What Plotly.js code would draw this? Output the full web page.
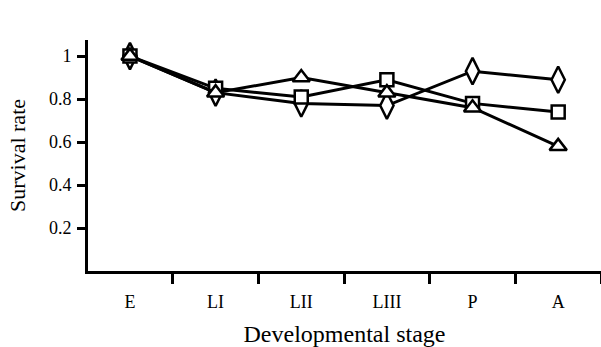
<!DOCTYPE html>
<html><head><meta charset="utf-8">
<script src="https://cdn.plot.ly/plotly-3.0.1.min.js"></script>
<style>html,body{margin:0;padding:0;background:#fff}#c{width:601px;height:347px}</style>
</head><body><div id="c"></div>
<script>
const stages = ["E", "LI", "LII", "LIII", "P", "A"];
const squareVals = [1.0, 0.85, 0.81, 0.89, 0.78, 0.74];
const diamondVals = [1.0, 0.83, 0.78, 0.77, 0.93, 0.89];
const triangleVals = [1.0, 0.83, 0.90, 0.83, 0.76, 0.58];
const yTicks = [0.2, 0.4, 0.6, 0.8, 1];
const yTickText = ["0.2", "0.4", "0.6", "0.8", "1"];

function series(name, vals, symbol, size) {
  return {
    type: "scatter", mode: "lines+markers", name: name,
    x: stages, y: vals,
    line: {color: "#000", width: 3},
    marker: {symbol: symbol, size: size, color: "#fff", line: {color: "#000", width: 2.5}},
    cliponaxis: false
  };
}
const data = [
  series("Diamond", diamondVals, "diamond-tall", 19),
  series("Square", squareVals, "square", 13),
  series("Triangle", triangleVals, "triangle-up", 15)
];
const ff = "Liberation Serif, Times New Roman, serif";
const layout = {
  width: 601, height: 347,
  margin: {l: 88, r: 0, t: 40, b: 76},
  showlegend: false,
  paper_bgcolor: "#fff", plot_bgcolor: "#fff",
  font: {family: ff, color: "#000"},
  xaxis: {
    type: "category", range: [-0.49, 5.5], tickson: "boundaries",
    showline: true, linecolor: "#000", linewidth: 3,
    ticks: "outside", ticklen: 10, tickwidth: 3, tickcolor: "#000",
    ticklabelstandoff: 12,
    showgrid: false, zeroline: false,
    tickfont: {family: ff, size: 18, color: "#000"},
    title: {text: "Developmental stage", font: {family: ff, size: 24, color: "#000"}, standoff: 15}
  },
  yaxis: {
    range: [0, 1.075], tickvals: yTicks, ticktext: yTickText,
    showline: true, linecolor: "#000", linewidth: 3,
    ticks: "outside", ticklen: 8, tickwidth: 3, tickcolor: "#000",
    ticklabelstandoff: 2,
    showgrid: false, zeroline: false,
    tickfont: {family: ff, size: 18, color: "#000"},
    title: {text: "Survival rate", font: {family: ff, size: 22, color: "#000"}, standoff: 18}
  }
};
Plotly.newPlot("c", data, layout, {displayModeBar: false, staticPlot: true});
</script></body></html>
